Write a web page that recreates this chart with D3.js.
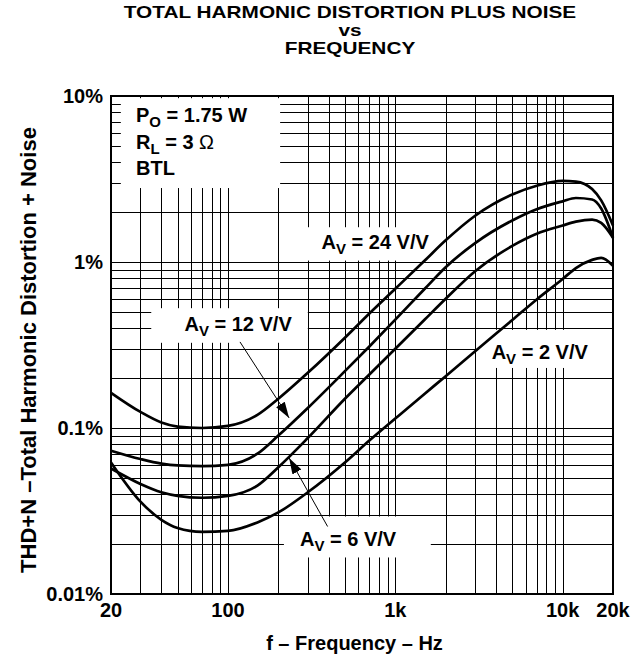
<!DOCTYPE html>
<html>
<head>
<meta charset="utf-8">
<script src="https://cdn.jsdelivr.net/npm/d3@7"></script>
<style>
  body { margin: 0; background: #fff; }
  text { font-family: "Liberation Sans", Arial, sans-serif; font-weight: bold; fill: #000; }
</style>
</head>
<body>
<div id="chart"></div>
<script>
// data (frequency in Hz, THD+N in %)
var freqs = [20, 30, 40, 50, 70, 100, 150, 200, 300, 500, 700, 1000, 1500, 2000, 3000, 5000, 7000, 10000, 12000, 15000, 17000, 20000]
var av24 = [0.163, 0.125, 0.108, 0.102, 0.100, 0.103, 0.120, 0.150, 0.215, 0.35, 0.49, 0.69, 1.02, 1.35, 1.90, 2.55, 2.88, 3.08, 3.05, 2.75, 2.35, 1.66]
var av12 = [0.073, 0.065, 0.061, 0.0595, 0.059, 0.060, 0.070, 0.090, 0.132, 0.22, 0.31, 0.45, 0.69, 0.93, 1.30, 1.78, 2.08, 2.32, 2.43, 2.38, 2.1, 1.4]
var av6 = [0.057, 0.046, 0.041, 0.039, 0.038, 0.039, 0.045, 0.058, 0.087, 0.15, 0.21, 0.30, 0.45, 0.60, 0.88, 1.25, 1.48, 1.66, 1.75, 1.80, 1.72, 1.4]
var av2 = [0.062, 0.036, 0.028, 0.025, 0.0237, 0.024, 0.027, 0.031, 0.041, 0.062, 0.084, 0.114, 0.161, 0.205, 0.29, 0.447, 0.595, 0.79, 0.92, 1.03, 1.06, 0.95]
var series = [av24, av12, av6, av2]

var xTicks = [20, 100, 1000, 10000, 20000]
var xTickLabels = ['20', '100', '1k', '10k', '20k']
var yTicks = [0.01, 0.1, 1, 10]
var yTickLabels = ['0.01%', '0.1%', '1%', '10%']

// label boxes in data units: [f1, f2, v1, v2]
var boxes = [
  [22.9, 205, 2.79, 9.7],
  [300, 2000, 1.02, 1.62],
  [34.8, 300, 0.326, 0.527],
  [216, 1630, 0.0166, 0.0293],
  [3040, 20000, 0.23, 0.39]
]
var gainLabels = [
  { gain: '24', f: 758, v: 1.2 },
  { gain: '12', f: 115, v: 0.384 },
  { gain: '6', f: 522, v: 0.0195 },
  { gain: '2', f: 7300, v: 0.26 }
]
// arrows: from [f, v] to tip [f, v]
var arrows = [
  [[118, 0.33], [232, 0.115]],
  [[394, 0.0255], [232, 0.066]]
]

var margin = { top: 96, left: 111 }
var width = 502
var height = 498

var svg = d3.select('#chart').append('svg')
  .attr('width', 644)
  .attr('height', 659)

var g = svg.append('g')
  .attr('transform', 'translate(' + margin.left + ',' + margin.top + ')')

var x = d3.scaleLog().domain([20, 20000]).range([0, width])
var y = d3.scaleLog().domain([0.01, 10]).range([height, 0])

// grid lines
var xGrid = []
;[10, 100, 1000].forEach(function (dec) {
  for (var k = 1; k <= 9; k++) {
    var f = dec * k
    if (f > 20 && f < 20000) xGrid.push(f)
  }
})
xGrid.push(10000)
var yGrid = []
;[0.01, 0.1, 1].forEach(function (dec) {
  for (var k = 2; k <= 10; k++) yGrid.push(dec * k)
})

var grid = g.append('g').attr('class', 'grid')
  .attr('stroke', '#000').attr('stroke-width', 1).attr('shape-rendering', 'crispEdges')
grid.selectAll('.vg').data(xGrid).enter().append('line')
  .attr('x1', function (d) { return Math.round(x(d)) + 0.5 })
  .attr('x2', function (d) { return Math.round(x(d)) + 0.5 })
  .attr('y1', 0).attr('y2', height)
grid.selectAll('.hg').data(yGrid).enter().append('line')
  .attr('y1', function (d) { return Math.round(y(d)) + 0.5 })
  .attr('y2', function (d) { return Math.round(y(d)) + 0.5 })
  .attr('x1', 0).attr('x2', width)

// white boxes behind labels
g.selectAll('.box').data(boxes).enter().append('rect')
  .attr('x', function (d) { return x(d[0]) })
  .attr('width', function (d) { return x(d[1]) - x(d[0]) })
  .attr('y', function (d) { return y(d[3]) })
  .attr('height', function (d) { return y(d[2]) - y(d[3]) })
  .attr('fill', '#fff')

// curves
var line = d3.line()
  .x(function (d) { return x(d[0]) })
  .y(function (d) { return y(d[1]) })
  .curve(d3.curveMonotoneX)

g.selectAll('.curve').data(series).enter().append('path')
  .attr('d', function (s) { return line(s.map(function (v, i) { return [freqs[i], v] })) })
  .attr('fill', 'none')
  .attr('stroke', '#000')
  .attr('stroke-width', 2.7)

// border
g.append('rect')
  .attr('width', width).attr('height', height)
  .attr('fill', 'none').attr('stroke', '#000').attr('stroke-width', 2)

// gain labels
gainLabels.forEach(function (d) {
  var t = g.append('text')
    .attr('x', x(d.f)).attr('y', y(d.v))
    .attr('text-anchor', 'middle')
    .style('font-size', '20px')
  t.append('tspan').text('A')
  t.append('tspan').attr('dy', 5).style('font-size', '15px').text('V')
  t.append('tspan').attr('dy', -5).text(' = ' + d.gain + ' V/V')
})

// arrows
svg.append('defs').append('marker')
  .attr('id', 'head')
  .attr('viewBox', '0 0 10 10')
  .attr('refX', 10).attr('refY', 5)
  .attr('markerWidth', 16).attr('markerHeight', 16)
  .attr('markerUnits', 'userSpaceOnUse')
  .attr('orient', 'auto')
  .append('path').attr('d', 'M0,1.8 L10,5 L0,8.2 Z').attr('fill', '#000')

g.selectAll('.arrow').data(arrows).enter().append('line')
  .attr('x1', function (d) { return x(d[0][0]) })
  .attr('y1', function (d) { return y(d[0][1]) })
  .attr('x2', function (d) { return x(d[1][0]) })
  .attr('y2', function (d) { return y(d[1][1]) })
  .attr('stroke', '#000').attr('stroke-width', 1)
  .attr('marker-end', 'url(#head)')

// conditions
var cond = g.append('g').style('font-size', '20px')
var c1 = cond.append('text').attr('x', x(28.2)).attr('y', y(6.97))
c1.append('tspan').text('P')
c1.append('tspan').attr('dy', 5).style('font-size', '15px').text('O')
c1.append('tspan').attr('dy', -5).text(' = 1.75 W')
var c2 = cond.append('text').attr('x', x(28.2)).attr('y', y(4.79))
c2.append('tspan').text('R')
c2.append('tspan').attr('dy', 5).style('font-size', '15px').text('L')
c2.append('tspan').attr('dy', -5).text(' = 3 ')
c2.append('tspan').style('font-weight', 'normal').text('\u03A9')
cond.append('text').attr('x', x(28.2)).attr('y', y(3.34)).text('BTL')

// tick labels
g.selectAll('.xt').data(xTicks).enter().append('text')
  .attr('x', function (d) { return x(d) })
  .attr('y', height + 23)
  .attr('text-anchor', 'middle')
  .style('font-size', '20px')
  .text(function (d, i) { return xTickLabels[i] })

g.selectAll('.yt').data(yTicks).enter().append('text')
  .attr('x', -8)
  .attr('y', function (d) { return y(d) + 7 })
  .attr('text-anchor', 'end')
  .style('font-size', '20px')
  .text(function (d, i) { return yTickLabels[i] })

// axis titles
g.append('text')
  .attr('x', 243.5).attr('y', height + 56)
  .attr('text-anchor', 'middle')
  .style('font-size', '20px')
  .text('f \u2013 Frequency \u2013 Hz')

g.append('text')
  .attr('transform', 'translate(' + (-75) + ',' + 254 + ') rotate(-90)')
  .attr('text-anchor', 'middle')
  .style('font-size', '22px')
  .text('THD+N \u2013Total Harmonic Distortion + Noise')

// title: tight lines, glyphs widened to the reference's width
var titleLines = ['TOTAL HARMONIC DISTORTION PLUS NOISE', 'vs', 'FREQUENCY']
var title = svg.append('g')
  .attr('transform', 'translate(350,0) scale(1.3,1)')
  .attr('text-anchor', 'middle')
  .style('font-size', '16px')
title.selectAll('text').data(titleLines).enter().append('text')
  .attr('x', 0)
  .attr('y', function (d, i) { return 18 + i * 18 })
  .text(function (d) { return d })
</script>
</body>
</html>
